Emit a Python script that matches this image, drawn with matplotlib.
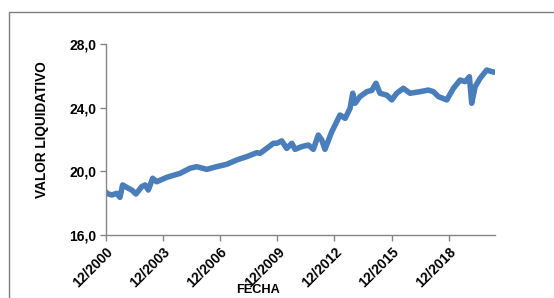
import matplotlib
matplotlib.use("Agg")
import matplotlib.pyplot as plt
from matplotlib.patches import Rectangle

# Data (decimal year, valor liquidativo)
fechas = [2000.92, 2000.95, 2001.22, 2001.48, 2001.65, 2001.79, 2002.09, 2002.27, 2002.49,
          2002.79, 2002.97, 2003.14, 2003.37, 2003.58, 2004.11, 2004.81, 2005.33, 2005.68,
          2006.21, 2006.73, 2007.26, 2007.78, 2008.31, 2008.84, 2009.01, 2009.36, 2009.71,
          2009.89, 2010.15, 2010.41, 2010.68, 2010.85, 2011.20, 2011.55, 2011.81, 2012.07,
          2012.25, 2012.42, 2012.78, 2013.21, 2013.48, 2013.74, 2013.88, 2014.00, 2014.26,
          2014.62, 2014.88, 2015.10, 2015.31, 2015.67, 2015.93, 2016.19, 2016.54, 2016.89,
          2017.42, 2017.85, 2018.12, 2018.38, 2018.82, 2019.17, 2019.52, 2019.78, 2020.01,
          2020.13, 2020.31, 2020.57, 2020.92, 2021.18, 2021.35]
valores = [18.70, 18.62, 18.52, 18.62, 18.37, 19.15, 18.94, 18.83, 18.58,
           19.04, 19.15, 18.83, 19.57, 19.35, 19.63, 19.88, 20.20, 20.30,
           20.13, 20.30, 20.45, 20.72, 20.93, 21.18, 21.14, 21.45, 21.77,
           21.77, 21.92, 21.45, 21.77, 21.39, 21.56, 21.66, 21.39, 22.29,
           21.98, 21.39, 22.50, 23.55, 23.34, 23.97, 24.92, 24.29, 24.71,
           25.02, 25.10, 25.55, 24.92, 24.80, 24.50, 24.92, 25.23, 24.92,
           25.02, 25.12, 25.02, 24.71, 24.50, 25.23, 25.75, 25.65, 25.96,
           24.29, 25.33, 25.86, 26.38, 26.28, 26.24]

xticks_pos = [2000.917, 2003.917, 2006.917, 2009.917, 2012.917, 2015.917, 2018.917]
xtick_labels = ["12/2000", "12/2003", "12/2006", "12/2009", "12/2012", "12/2015", "12/2018"]
yticks_pos = [16, 20, 24, 28]
ytick_labels = ["16,0", "20,0", "24,0", "28,0"]

plt.rcParams['font.family'] = ['Liberation Sans', 'DejaVu Sans']

fig = plt.figure(figsize=(5.54, 2.98), dpi=100)
ax = fig.add_axes([106/554, 1-235/298, (495.3-106)/554, (235-44.3)/298])

ax.plot(fechas, valores, color="#4A7EBB", lw=4.0, solid_capstyle='round', solid_joinstyle='round')

ax.set_xlim(2000.917, 2021.37)
ax.set_ylim(16, 28)
ax.set_xticks(xticks_pos)
ax.set_xticklabels(xtick_labels, rotation=45, ha='right', rotation_mode='anchor',
                   fontsize=10, fontweight='bold')
ax.set_yticks(yticks_pos)
ax.set_yticklabels(ytick_labels, fontsize=10, fontweight='bold')

for s in ['top', 'right']:
    ax.spines[s].set_visible(False)
for s in ['left', 'bottom']:
    ax.spines[s].set_color('#868686')
    ax.spines[s].set_linewidth(1.0)
ax.tick_params(axis='both', direction='out', length=4, color='#868686', width=1.0, pad=3)

fig.text(42/554, 1-130/298, "VALOR LIQUIDATIVO", rotation=90, ha='center', va='center',
         fontsize=9.8, fontweight='bold')
fig.text(258/554, 1-290/298, "FECHA", ha='center', va='center', fontsize=9.2, fontweight='bold')

rect = Rectangle((9/554, -0.2), 1.0, 1.2 - 12/298, transform=fig.transFigure,
                 fill=False, edgecolor='#7f7f7f', linewidth=1.0)
fig.patches.append(rect)

fig.savefig("out.png", dpi=100)
